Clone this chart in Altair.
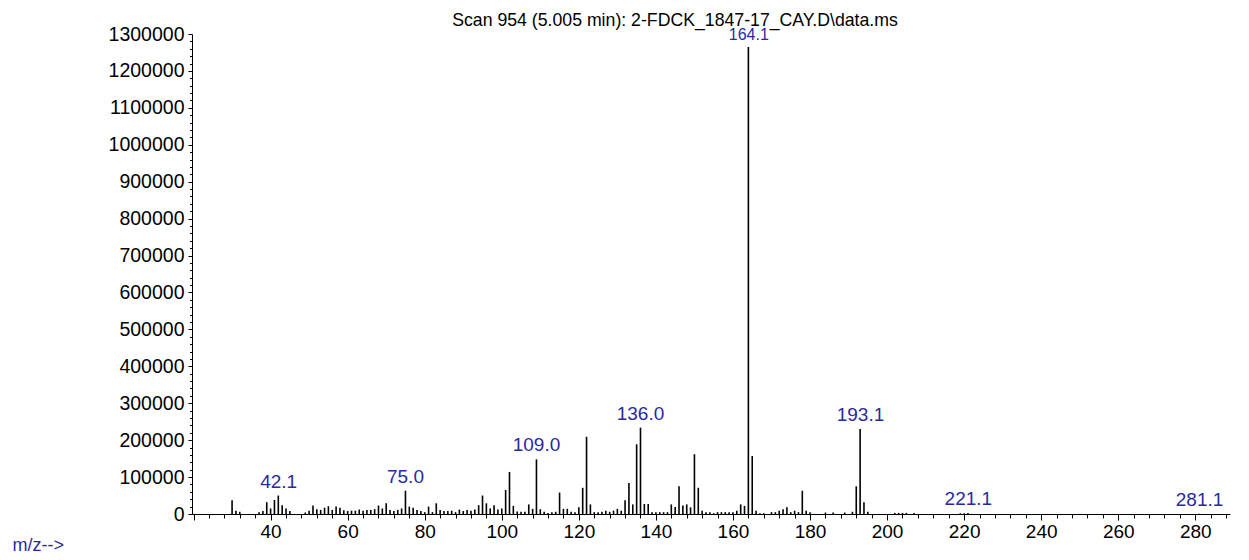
import altair as alt
import pandas as pd

# m/z values of the spectrum lines and their abundances
mz = [30, 31, 32, 37, 38, 39, 40, 41, 42, 43, 44, 45, 49, 50, 51, 52, 53, 54, 55, 56,
      57, 58, 59, 60, 61, 62, 63, 64, 65, 66, 67, 68, 69, 70, 71, 72, 73, 74, 75, 76,
      77, 78, 79, 80, 81, 82, 83, 84, 85, 86, 87, 88, 89, 90, 91, 92, 93, 94, 95, 96,
      97, 98, 99, 100, 101, 102, 103, 104, 105, 106, 107, 108, 109, 110, 111, 112, 113, 114, 115, 116,
      117, 118, 119, 120, 121, 122, 123, 124, 125, 126, 127, 128, 129, 130, 131, 132, 133, 134, 135, 136,
      137, 138, 139, 140, 141, 142, 143, 144, 145, 146, 147, 148, 149, 150, 151, 152, 153, 154, 155, 156,
      157, 158, 159, 160, 161, 162, 163, 164, 165, 166, 167, 168, 170, 171, 172, 173, 174, 175, 176, 177,
      178, 179, 180, 184, 186, 189, 191, 192, 193, 194, 195, 202, 203, 204, 205, 207, 219, 220, 221, 281]
abundance = [37000, 9000, 6000, 5000, 8000, 32000, 15000, 38000, 50000, 24000, 15000, 8000, 4000, 9000, 23000, 13000, 11000, 17000, 21000, 11000,
             20000, 17000, 10000, 8000, 9000, 9000, 12000, 9000, 11000, 11000, 13000, 23000, 15000, 29000, 11000, 8000, 11000, 15000, 63000, 20000,
             17000, 11000, 8000, 5000, 20000, 5000, 29000, 11000, 8000, 8000, 9000, 5000, 12000, 8000, 11000, 9000, 12000, 24000, 50000, 29000,
             15000, 24000, 12000, 15000, 65000, 114000, 22000, 7000, 6000, 6000, 26000, 14000, 148000, 13000, 6000, 3000, 5000, 6000, 58000, 14000,
             14000, 6000, 5000, 18000, 71000, 209000, 26000, 5000, 5000, 6000, 9000, 6000, 9000, 14000, 9000, 37000, 84000, 26000, 189000, 234000,
             27000, 27000, 5000, 5000, 5000, 5000, 5000, 26000, 19000, 75000, 23000, 26000, 18000, 162000, 71000, 9000, 5000, 5000, 2000, 5000,
             5000, 5000, 5000, 5000, 9000, 26000, 22000, 1265000, 157000, 9000, 2000, 2000, 5000, 5000, 9000, 13000, 18000, 5000, 9000, 5000,
             63000, 9000, 5000, 4000, 4000, 4000, 6000, 75000, 230000, 32000, 6000, 3000, 3000, 3000, 3000, 3000, 2000, 2000, 3000, 1000]

# labelled peaks
peak_mz = [42.1, 75.0, 109.0, 136.0, 164.1, 193.1, 221.1, 281.1]
peak_abundance = [50000, 63000, 148000, 234000, 1265000, 230000, 3000, 1000]
peak_label = ["42.1", "75.0", "109.0", "136.0", "164.1", "193.1", "221.1", "281.1"]
peak_font_size = [19, 19, 19, 19, 16, 19, 19, 19]

x_ticks = list(range(20, 289, 4))
y_ticks = list(range(0, 1300001, 20000))

title_text = "Scan 954 (5.005 min): 2-FDCK_1847-17_CAY.D\\data.ms"

FONT = "Liberation Sans"
BLUE = "#2a2aa0"

spec = pd.DataFrame({"mz": mz, "abundance": abundance})
peaks = pd.DataFrame({"mz": peak_mz, "abundance": peak_abundance, "label": peak_label, "fs": peak_font_size})
title_df = pd.DataFrame({"t": [title_text]})

x_axis = alt.Axis(
    values=x_ticks,
    labelExpr="datum.value % 20 === 0 && datum.value >= 40 ? datum.label : ''",
    tickSize={"condition": {"test": "datum.value % 20 === 0", "value": 6}, "value": 4},
    labelOverlap=False, labelFlush=False, grid=False,
    domainColor="black", tickColor="black", labelColor="black",
    labelFont=FONT, labelFontSize=19, labelPadding=2,
    title="m/z-->", titleFont=FONT, titleFontSize=18, titleFontWeight="normal",
    titleColor=BLUE, titleAnchor="start", titleAlign="left", titleBaseline="alphabetic",
    titleX=-180, titleY=36,
)
y_axis = alt.Axis(
    values=y_ticks, format="d",
    labelExpr="datum.value % 100000 === 0 ? datum.label : ''",
    tickSize={"condition": {"test": "datum.value % 100000 === 0", "value": 4}, "value": 2.5},
    labelOverlap=False, labelFlush=False, grid=False,
    domainColor="black", tickColor="black", labelColor="black",
    labelFont=FONT, labelFontSize=19.5, labelPadding=4,
    title=None,
)

x_scale = alt.Scale(domain=[19.6, 289.0], nice=False, zero=False)
y_scale = alt.Scale(domain=[0, 1300000], nice=False)

bars = alt.Chart(spec).mark_rule(color="black", strokeWidth=1.6).encode(
    x=alt.X("mz:Q", scale=x_scale, axis=x_axis),
    y=alt.Y("abundance:Q", scale=y_scale, axis=y_axis),
    y2=alt.datum(0),
)

labels = alt.Chart(peaks).mark_text(
    font=FONT, color=BLUE, baseline="bottom", align="center", dy=-4
).encode(
    x=alt.X("mz:Q", scale=x_scale, axis=x_axis),
    y=alt.Y("abundance:Q", scale=y_scale, axis=y_axis),
    text="label:N",
    size=alt.Size("fs:Q", scale=None, legend=None),
)

title = alt.Chart(title_df).mark_text(
    font=FONT, fontSize=17.7, color="black", baseline="alphabetic", align="center"
).encode(
    text="t:N",
    x=alt.value(483),
    y=alt.value(-8),
)

chart = alt.layer(bars, labels, title).properties(
    width=1038,
    height=480,
    autosize=alt.AutoSizeParams(type="none"),
    padding={"left": 184, "top": 26, "right": 10, "bottom": 42},
).configure(background="white").configure_view(strokeWidth=0)

chart.save("out.html", embed_options={"renderer": "svg", "actions": False})
